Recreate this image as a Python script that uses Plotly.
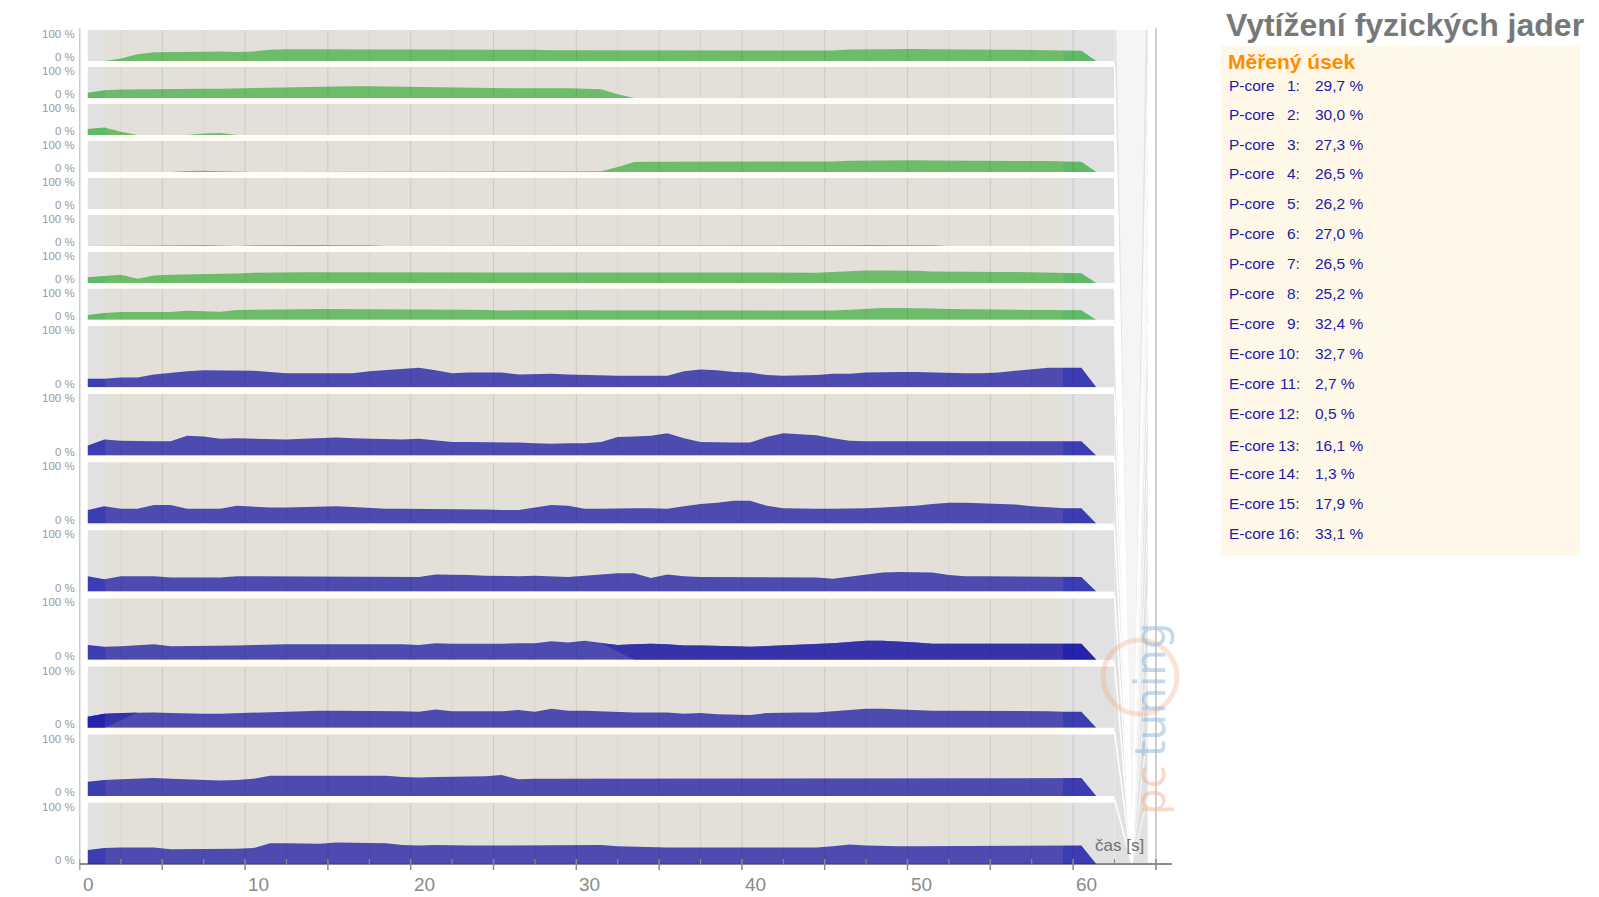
import plotly.graph_objects as go

W, H = 1599, 897

# ---------------- data ----------------
T = [0.5, 1.5, 2.5, 3.5, 4.5, 5.5, 6.5, 7.5, 8.5, 9.5,
     10.5, 11.5, 12.5, 13.5, 14.5, 15.5, 16.5, 17.5, 18.5, 19.5,
     20.5, 21.5, 22.5, 23.5, 24.5, 25.5, 26.5, 27.5, 28.5, 29.5,
     30.5, 31.5, 32.5, 33.5, 34.5, 35.5, 36.5, 37.5, 38.5, 39.5,
     40.5, 41.5, 42.5, 43.5, 44.5, 45.5, 46.5, 47.5, 48.5, 49.5,
     50.5, 51.5, 52.5, 53.5, 54.5, 55.5, 56.5, 57.5, 58.5, 59.5, 60.5]
T_END = 61.4

P1 = [0, 0, 8, 22, 28, 28, 28, 30, 31, 29,
      31, 36, 38, 38, 38, 38, 38, 38, 38, 38,
      38, 38, 38, 37, 36, 36, 36, 36, 35, 35,
      35, 34, 34, 34, 34, 33, 33, 33, 33, 33,
      33, 33, 33, 33, 33, 34, 37, 38, 38, 38,
      39, 38, 37, 36, 36, 36, 36, 35, 34, 33, 33]
P2 = [17, 25, 27, 28, 29, 29, 29, 30, 30, 31,
      34, 35, 36, 37, 38, 38, 38, 38, 37, 36,
      36, 35, 33, 32, 31, 31, 31, 31, 32, 31,
      30, 28, 12, 0, 0, 0, 0, 0, 0, 0,
      2, 0, 0, 2, 0, 0, 0, 0, 2, 0,
      0, 0, 0, 0, 0, 0, 0, 0, 2, 2, 2]
P3 = [19, 24, 10, 0, 0, 0, 0, 5, 6, 0,
      0, 0, 0, 0, 0, 0, 0, 0, 0, 0,
      2, 0, 0, 0, 0, 0, 0, 0, 0, 0,
      2, 0, 0, 0, 0, 0, 0, 0, 0, 0,
      0, 2, 0, 0, 2, 0, 0, 0, 2, 0,
      2, 0, 0, 2, 0, 2, 0, 0, 0, 2, 2]
P4 = [0, 0, 0, 0, 0, 0, 3, 4, 2, 0,
      0, 0, 0, 0, 0, 2, 0, 0, 0, 0,
      2, 0, 0, 0, 0, 2, 0, 0, 0, 0,
      0, 2, 16, 32, 33, 33, 33, 33, 33, 33,
      33, 33, 33, 33, 33, 34, 36, 37, 38, 38,
      38, 37, 37, 37, 37, 37, 37, 36, 35, 34, 33]
P5 = [0, 0, 0, 0, 0, 0, 1, 2, 2, 0,
      0, 0, 0, 0, 0, 0, 0, 0, 0, 0,
      0, 0, 0, 0, 0, 0, 0, 0, 0, 0,
      0, 0, 0, 0, 0, 0, 0, 0, 0, 0,
      0, 0, 0, 0, 0, 0, 0, 0, 0, 0,
      0, 0, 0, 0, 0, 0, 0, 0, 0, 0, 0]
P6 = [0, 0, 0, 2, 0, 0, 2, 3, 2, 0,
      2, 3, 3, 3, 3, 3, 3, 2, 0, 0,
      2, 0, 0, 0, 0, 0, 0, 0, 2, 0,
      2, 0, 0, 0, 0, 0, 0, 2, 0, 0,
      0, 0, 0, 0, 0, 2, 2, 3, 3, 2,
      2, 2, 0, 0, 0, 2, 0, 0, 0, 2, 2]
P7 = [18, 22, 26, 13, 24, 26, 27, 28, 28, 30,
      33, 34, 34, 34, 34, 34, 34, 34, 34, 34,
      34, 34, 34, 34, 34, 33, 33, 33, 33, 33,
      33, 33, 33, 32, 32, 32, 32, 32, 32, 32,
      32, 32, 32, 32, 33, 35, 38, 40, 40, 40,
      39, 37, 36, 35, 35, 35, 35, 34, 33, 32, 31]
P8 = [16, 22, 25, 25, 25, 25, 29, 28, 26, 32,
      32, 33, 33, 34, 35, 35, 35, 35, 35, 35,
      35, 35, 34, 33, 32, 30, 31, 31, 31, 31,
      31, 31, 31, 30, 30, 29, 29, 29, 29, 29,
      29, 29, 29, 29, 29, 30, 33, 36, 38, 38,
      38, 37, 35, 34, 33, 33, 33, 32, 32, 32, 31]
E9 = [14, 14, 16, 16, 21, 24, 26, 28, 28, 28,
      27, 25, 23, 23, 23, 23, 23, 26, 28, 30,
      32, 28, 23, 24, 24, 24, 21, 22, 22, 21,
      20, 19, 19, 19, 19, 19, 26, 29, 28, 25,
      24, 20, 19, 19, 20, 22, 22, 24, 25, 25,
      25, 24, 23, 23, 23, 24, 27, 30, 32, 32, 32]
E10 = [16, 26, 24, 23, 23, 23, 32, 31, 27, 28,
       27, 26, 26, 27, 28, 29, 28, 27, 26, 26,
       27, 25, 22, 22, 22, 22, 21, 20, 19, 20,
       20, 22, 30, 31, 32, 36, 28, 22, 21, 21,
       21, 30, 36, 35, 33, 28, 24, 23, 23, 23,
       23, 23, 23, 23, 23, 23, 23, 22, 22, 23, 23]
E11 = [22, 28, 24, 24, 30, 30, 24, 24, 24, 29,
       27, 26, 26, 27, 28, 28, 27, 25, 24, 24,
       24, 24, 24, 24, 23, 22, 22, 26, 30, 29,
       24, 24, 25, 25, 25, 24, 28, 32, 34, 37,
       37, 29, 25, 24, 24, 24, 24, 25, 26, 27,
       29, 32, 34, 34, 33, 33, 31, 28, 26, 25, 25]
E12 = [25, 20, 25, 25, 25, 23, 23, 23, 23, 25,
       25, 25, 25, 25, 25, 25, 25, 25, 25, 25,
       24, 28, 28, 27, 26, 25, 25, 26, 25, 24,
       26, 28, 30, 30, 22, 28, 25, 24, 24, 24,
       24, 24, 23, 23, 23, 21, 24, 27, 31, 32,
       32, 31, 27, 25, 25, 25, 25, 25, 24, 24, 24]
E13 = [24, 21, 22, 24, 25, 22, 22, 22, 22, 23,
       24, 25, 25, 25, 25, 25, 25, 26, 26, 25,
       24, 27, 26, 26, 25, 26, 27, 27, 30, 28,
       31, 27, 24, 25, 26, 25, 23, 23, 23, 22,
       21, 22, 23, 24, 25, 27, 29, 31, 31, 30,
       28, 26, 26, 26, 26, 26, 26, 26, 26, 26, 26]
E14 = [18, 23, 24, 25, 25, 24, 23, 23, 23, 24,
       25, 25, 27, 28, 28, 28, 28, 28, 28, 27,
       26, 30, 27, 27, 27, 27, 29, 26, 31, 28,
       28, 27, 25, 25, 25, 25, 23, 24, 22, 21,
       21, 24, 25, 25, 25, 27, 29, 31, 31, 30,
       28, 28, 28, 28, 28, 28, 28, 28, 27, 26, 26]
E15 = [23, 26, 27, 28, 29, 28, 27, 25, 25, 26,
       28, 33, 33, 33, 32, 32, 33, 33, 33, 31,
       30, 31, 31, 31, 32, 34, 27, 28, 28, 28,
       28, 28, 28, 28, 28, 28, 28, 28, 28, 28,
       28, 28, 28, 28, 28, 29, 29, 29, 29, 29,
       29, 29, 29, 29, 29, 29, 29, 29, 29, 29, 29]
E16 = [23, 26, 27, 27, 27, 24, 24, 24, 25, 25,
       26, 34, 34, 33, 33, 35, 35, 34, 34, 31,
       30, 31, 30, 30, 30, 30, 30, 30, 30, 30,
       30, 31, 29, 28, 27, 27, 27, 27, 27, 27,
       27, 27, 27, 27, 27, 29, 32, 30, 29, 29,
       29, 29, 29, 29, 29, 29, 30, 30, 30, 30, 30]

SERIES = [P1, P2, P3, P4, P5, P6, P7, P8,
          E9, E10, E11, E12, E13, E14, E15, E16]
CORE_TYPE = ["P-core"] * 8 + ["E-core"] * 8
CORE_NUM = list(range(1, 17))
AVG_TEXT = ["29,7 %", "30,0 %", "27,3 %", "26,5 %", "26,2 %", "27,0 %", "26,5 %", "25,2 %",
            "32,4 %", "32,7 %", "2,7 %", "0,5 %", "16,1 %", "1,3 %", "17,9 %", "33,1 %"]

# second (overlapping) thread segments
E13_B_FROM = 31      # index into T where the second segment starts
E13_B_BASE = 33.5    # baseline start of that polygon
E14_B_TO = 4         # index into T where the second segment ends
E14_B_BASE = 1.5

MEASURE_START, MEASURE_END = 1.55, 59.4
X_TICKS = [0, 10, 20, 30, 40, 50, 60]

# ---------------- layout geometry ----------------
X0_PX, PX_PER_S, X_MAX = 79.5, 16.56, 66
PANEL_X0, PANEL_X1 = 0.5, 62.5
FAN_X0, FAN_X1, FAN_TIP = 62.5, 64.5, 63.55
AXIS_Y_PX = 864
TOP_PX = 30

small_tops = [30 + 36.98 * i for i in range(8)]
big_tops = [326 + 68.1 * i for i in range(8)]
tops = small_tops + big_tops
bottoms = [t + 31 for t in small_tops] + [t + 61.3 for t in big_tops]


def py(px):
    return 1 - px / H


GREEN = "rgba(72,177,80,0.85)"
BLUE = "rgba(30,30,170,0.85)"
FONT = "Liberation Sans, Arial, sans-serif"

fig = go.Figure()

grid_major = [g for g in [2.5 * k for k in range(1, 25)] if g % 5 == 0]
grid_minor = [g for g in [2.5 * k for k in range(1, 25)] if g % 5 != 0]


def grid_xy(vals):
    xs, ys = [], []
    for g in vals:
        xs += [g, g, None]
        ys += [0, 100, None]
    return xs, ys


layout_axes = {}
for k in range(16):
    yname = "y" if k == 0 else f"y{k + 1}"
    color = GREEN if k < 8 else BLUE
    vals = SERIES[k]
    fig.add_trace(go.Scatter(x=T + [T_END], y=vals + [0], mode="lines", fill="tozeroy",
                             fillcolor=color, line=dict(width=0, color=color),
                             xaxis="x", yaxis=yname, hoverinfo="skip"))
    if k == 12:
        bx = T[E13_B_FROM:] + [T_END, E13_B_BASE]
        by = vals[E13_B_FROM:] + [0, 0]
        fig.add_trace(go.Scatter(x=bx, y=by, mode="lines", fill="toself", fillcolor=color,
                                 line=dict(width=0, color=color), xaxis="x", yaxis=yname,
                                 hoverinfo="skip"))
    if k == 13:
        bx = [T[0]] + T[:E14_B_TO] + [E14_B_BASE]
        by = [0] + vals[:E14_B_TO] + [0]
        fig.add_trace(go.Scatter(x=bx, y=by, mode="lines", fill="toself", fillcolor=color,
                                 line=dict(width=0, color=color), xaxis="x", yaxis=yname,
                                 hoverinfo="skip"))
    gx, gy = grid_xy(grid_minor)
    fig.add_trace(go.Scatter(x=gx, y=gy, mode="lines", line=dict(width=1, color="rgba(0,0,0,0.055)"),
                             xaxis="x", yaxis=yname, hoverinfo="skip"))
    gx, gy = grid_xy(grid_major)
    fig.add_trace(go.Scatter(x=gx, y=gy, mode="lines", line=dict(width=1, color="rgba(0,0,0,0.11)"),
                             xaxis="x", yaxis=yname, hoverinfo="skip"))
    key = "yaxis" if k == 0 else f"yaxis{k + 1}"
    layout_axes[key] = dict(domain=[py(bottoms[k]), py(tops[k])], range=[0, 100], anchor="x",
                            showticklabels=False, showgrid=False, zeroline=False, showline=False,
                            fixedrange=True)

shapes = []
# panel backgrounds
for k in range(16):
    shapes.append(dict(type="rect", xref="x", yref="paper", x0=PANEL_X0, x1=PANEL_X1,
                       y0=py(bottoms[k]), y1=py(tops[k]), fillcolor="#e1e1e1",
                       line=dict(width=0), layer="below"))
# fan column at the right end
shapes.append(dict(type="rect", xref="x", yref="paper", x0=FAN_X0, x1=FAN_X1,
                   y0=py(AXIS_Y_PX), y1=py(TOP_PX), fillcolor="#e1e1e1", line=dict(width=0),
                   layer="below"))
shapes.append(dict(type="path", xref="x", yref="paper",
                   path=f"M {FAN_X0 + 0.1},{py(TOP_PX)} L {FAN_X1 - 0.1},{py(TOP_PX)} L {FAN_TIP},{py(AXIS_Y_PX)} Z",
                   fillcolor="rgba(255,255,255,0.65)", line=dict(width=0), layer="below"))
for k in range(15):
    sep = (bottoms[k] + tops[k + 1]) / 2
    shapes.append(dict(type="line", xref="x", yref="paper", x0=FAN_X0, x1=FAN_TIP,
                       y0=py(sep), y1=py(AXIS_Y_PX), line=dict(color="white", width=1.5), layer="below"))
    shapes.append(dict(type="line", xref="x", yref="paper", x0=FAN_X1, x1=FAN_TIP,
                       y0=py(sep), y1=py(AXIS_Y_PX), line=dict(color="rgba(255,255,255,0.8)", width=1),
                       layer="below"))
# measured-section overlay
shapes.append(dict(type="rect", xref="x", yref="paper", x0=MEASURE_START, x1=MEASURE_END,
                   y0=py(AXIS_Y_PX), y1=py(TOP_PX), fillcolor="rgba(255,220,150,0.09)",
                   line=dict(width=0), layer="above"))
# vertical axis lines
shapes.append(dict(type="line", xref="x", yref="paper", x0=0, x1=0, y0=py(870), y1=py(28),
                   line=dict(color="#999999", width=1.5)))
shapes.append(dict(type="line", xref="x", yref="paper", x0=65, x1=65, y0=py(870), y1=py(28),
                   line=dict(color="#b0b0b0", width=1.2)))
# ticks
for k in range(0, 14):
    t = 5 * k
    shapes.append(dict(type="line", xref="x", yref="paper", x0=t, x1=t, y0=py(870), y1=py(859),
                       line=dict(color="#8a8a8a", width=1.5)))
for k in range(0, 13):
    t = 2.5 + 5 * k
    shapes.append(dict(type="line", xref="x", yref="paper", x0=t, x1=t, y0=py(864), y1=py(859),
                       line=dict(color="#8a8a8a", width=1.2)))

ann = []
for t in X_TICKS:
    ann.append(dict(x=t, xref="x", y=py(884), yref="paper", text=str(t), showarrow=False,
                    xanchor="left", yanchor="middle", xshift=1,
                    font=dict(family=FONT, size=19, color="#8a8a8a")))
for k in range(16):
    ann.append(dict(x=76.7 / W, xref="paper", y=py(tops[k] + 4), yref="paper", text="100 %",
                    showarrow=False, xanchor="right", yanchor="middle",
                    font=dict(family=FONT, size=11.5, color="#9a9a9a")))
    ann.append(dict(x=76.7 / W, xref="paper", y=py(bottoms[k] - 3.5), yref="paper", text="0 %",
                    showarrow=False, xanchor="right", yanchor="middle",
                    font=dict(family=FONT, size=11.5, color="#9a9a9a")))
ann.append(dict(x=1146 / W, xref="paper", y=py(845), yref="paper", text="čas [s]", showarrow=False,
                xanchor="right", yanchor="middle", font=dict(family=FONT, size=17, color="#707070")))

# watermark
ann.append(dict(x=1150 / W, xref="paper", y=py(790), yref="paper", text="pc", showarrow=False,
                textangle=-90, xanchor="center", yanchor="middle",
                font=dict(family="DejaVu Sans, sans-serif", size=42, color="rgba(245,170,135,0.45)")))
ann.append(dict(x=1150 / W, xref="paper", y=py(690), yref="paper", text="tuning", showarrow=False,
                textangle=-90, xanchor="center", yanchor="middle",
                font=dict(family="DejaVu Sans, sans-serif", size=42, color="rgba(140,180,220,0.5)")))
shapes.append(dict(type="circle", xref="paper", yref="paper", x0=1103 / W, x1=1177 / W,
                   y0=py(714), y1=py(640), line=dict(color="rgba(245,160,120,0.3)", width=5)))

# title and legend box
ann.append(dict(x=1224 / W, xref="paper", y=py(24.5), yref="paper", text="<b>Vytížení fyzických jader</b>",
                showarrow=False, xanchor="left", yanchor="middle",
                font=dict(family=FONT, size=32, color="#787878")))
shapes.append(dict(type="rect", xref="paper", yref="paper", x0=1221 / W, x1=1580 / W,
                   y0=py(556), y1=py(46), fillcolor="#fff8e8", line=dict(width=0), layer="below"))
ann.append(dict(x=1226 / W, xref="paper", y=py(62), yref="paper", text="<b>Měřený úsek</b>",
                showarrow=False, xanchor="left", yanchor="middle",
                font=dict(family=FONT, size=21, color="#ff8c00")))
LEGEND_ROW_Y = [85, 114.3, 144, 174, 204, 233.3, 263.3, 293.3, 323.3, 353.3, 383.3, 413.3,
                445.7, 473.3, 503.3, 533.3]
LC = "#1c1ca6"
for k in range(16):
    yy = py(LEGEND_ROW_Y[k])
    ann.append(dict(x=1227 / W, xref="paper", y=yy, yref="paper", text=CORE_TYPE[k], showarrow=False,
                    xanchor="left", yanchor="middle", font=dict(family=FONT, size=15.5, color=LC)))
    ann.append(dict(x=1302 / W, xref="paper", y=yy, yref="paper", text=f"{CORE_NUM[k]}:",
                    showarrow=False, xanchor="right", yanchor="middle",
                    font=dict(family=FONT, size=15.5, color=LC)))
    ann.append(dict(x=1313 / W, xref="paper", y=yy, yref="paper", text=AVG_TEXT[k], showarrow=False,
                    xanchor="left", yanchor="middle", font=dict(family=FONT, size=15.5, color=LC)))

fig.update_layout(
    width=W, height=H, margin=dict(l=0, r=0, t=0, b=0),
    paper_bgcolor="white", plot_bgcolor="rgba(0,0,0,0)", showlegend=False,
    xaxis=dict(domain=[X0_PX / W, (X0_PX + X_MAX * PX_PER_S) / W], range=[0, X_MAX],
               anchor="free", position=py(AXIS_Y_PX), showline=True, linecolor="#8a8a8a",
               linewidth=1.5, ticks="", showticklabels=False, showgrid=False, zeroline=False,
               fixedrange=True),
    shapes=shapes, annotations=ann, **layout_axes,
)

fig.write_html("out.html")
